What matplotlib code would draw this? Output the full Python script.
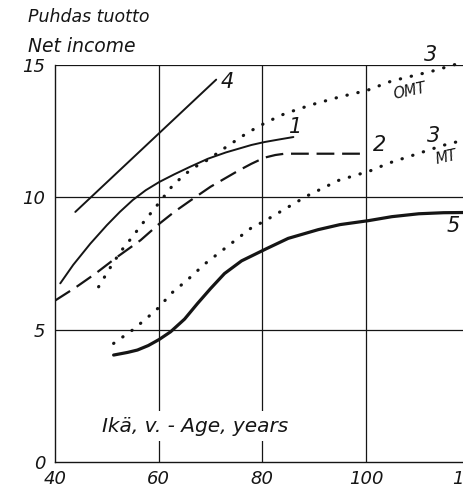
import matplotlib.pyplot as plt

# net income curves by stand age
age_4 = [43.9, 71.1]
income_4 = [9.45, 14.45]

age_1 = [41.0, 43.5, 46.8, 50.0, 52.5, 55.0, 57.5, 60.1, 63.0, 66.0, 69.5,
         73.0, 77.9, 80.4, 83.0, 86.0]
income_1 = [6.75, 7.45, 8.25, 8.95, 9.45, 9.9, 10.27, 10.58, 10.87, 11.15, 11.46,
            11.7, 11.98, 12.09, 12.18, 12.28]

age_2 = [40.0, 44.0, 47.8, 52.0, 56.5, 60.1, 63.0, 66.2, 70.0, 75.3, 77.9,
         80.4, 82.5, 84.3, 100.0]
income_2 = [6.1, 6.6, 7.12, 7.75, 8.38, 9.0, 9.45, 9.89, 10.4, 11.0, 11.27,
            11.5, 11.6, 11.65, 11.65]

age_3_omt = [48.4, 50.5, 52.6, 54.9, 56.5, 60.1, 62.5, 64.9, 67.0, 69.5, 73.0,
             77.2, 80.8, 84.3, 89.5, 95.0, 100.2, 105.0, 112.8, 118.6, 120.0]
income_3_omt = [6.62, 7.3, 7.94, 8.5, 8.92, 9.8, 10.4, 10.85, 11.15, 11.42, 11.9,
                12.45, 12.84, 13.16, 13.5, 13.8, 14.04, 14.4, 14.77, 15.1, 15.18]

age_3_mt = [51.3, 54.9, 57.5, 60.1, 62.3, 65.6, 69.0, 72.7, 77.9, 80.4, 86.6,
            88.9, 94.7, 100.8, 104.5, 108.9, 114.8, 118.6, 120.0]
income_3_mt = [4.48, 4.98, 5.4, 5.85, 6.35, 6.89, 7.5, 8.06, 8.85, 9.1, 9.82,
               10.08, 10.64, 11.0, 11.3, 11.58, 11.96, 12.15, 12.2]

age_5 = [51.3, 54.0, 55.9, 58.0, 60.1, 62.3, 65.0, 67.5, 70.0, 72.7, 76.0,
         80.8, 85.0, 90.8, 95.0, 100.5, 105.0, 110.2, 115.0, 120.0]
income_5 = [4.04, 4.14, 4.23, 4.4, 4.63, 4.92, 5.4, 5.99, 6.55, 7.12, 7.6,
            8.06, 8.45, 8.78, 8.97, 9.12, 9.27, 9.38, 9.42, 9.43]

x_ticks = [40, 60, 80, 100, 120]
y_ticks = [0, 5, 10, 15]

ink = "#151515"
hand = dict(family="DejaVu Sans", style="italic", color=ink)

fig = plt.figure(figsize=(4.63, 4.93), dpi=100)
ax = fig.add_axes([0.119, 0.063, 0.895, 0.805])
ax.set_xlim(40, 120)
ax.set_ylim(0, 15)

for s in ["top", "right"]:
    ax.spines[s].set_visible(False)
for s in ["left", "bottom"]:
    ax.spines[s].set_linewidth(1.0)
    ax.spines[s].set_color(ink)

# grid at the tick positions
for xv in x_ticks[1:]:
    ax.axvline(xv, color=ink, lw=0.9, zorder=1)
for yv in y_ticks[1:]:
    ax.axhline(yv, color=ink, lw=0.9, zorder=1)

ax.set_xticks(x_ticks)
ax.set_yticks(y_ticks)
ax.tick_params(length=0, labelsize=13)
ax.tick_params(axis="x", pad=6)
ax.tick_params(axis="y", pad=7)
for lab in ax.get_xticklabels() + ax.get_yticklabels():
    lab.set_style("italic")
    lab.set_color(ink)

line = dict(color=ink, solid_capstyle="round", solid_joinstyle="round", zorder=3)
dots = dict(lw=2.3, linestyle=(0, (0.1, 3.4)), dash_capstyle="round",
            color=ink, zorder=3)
ax.plot(age_4, income_4, lw=1.4, **line)
ax.plot(age_1, income_1, lw=1.4, **line)
ax.plot(age_2, income_2, lw=1.6, linestyle=(0, (8, 3.5)), color=ink, zorder=3)
ax.plot(age_3_omt, income_3_omt, clip_on=False, **dots)
ax.plot(age_3_mt, income_3_mt, **dots)
ax.plot(age_5, income_5, lw=2.3, **line)

# curve labels
ax.text(72.0, 14.0, "4", fontsize=15, va="bottom", **hand)
ax.text(85.2, 12.3, "1", fontsize=15, va="bottom", **hand)
ax.text(101.3, 11.6, "2", fontsize=15, va="bottom", **hand)
ax.text(111.3, 15.0, "3", fontsize=15, va="bottom", clip_on=False, **hand)
ax.text(105.0, 14.0, "OMT", fontsize=10.5, rotation=12, va="center", **hand)
ax.text(111.8, 11.95, "3", fontsize=15, va="bottom", **hand)
ax.text(113.2, 11.5, "MT", fontsize=10.5, rotation=12, va="center", **hand)
ax.text(115.5, 8.55, "5", fontsize=15, va="bottom", **hand)

ax.text(49.1, 1.15, "Ikä, v. - Age, years", fontsize=14.5, zorder=4,
        bbox=dict(facecolor="white", edgecolor="none", pad=4), **hand)

fig.text(0.06, 0.955, "Puhdas tuotto", fontsize=12.5, **hand)
fig.text(0.06, 0.895, "Net income", fontsize=13.5, **hand)

fig.savefig("out.png", dpi=100, facecolor="white")
